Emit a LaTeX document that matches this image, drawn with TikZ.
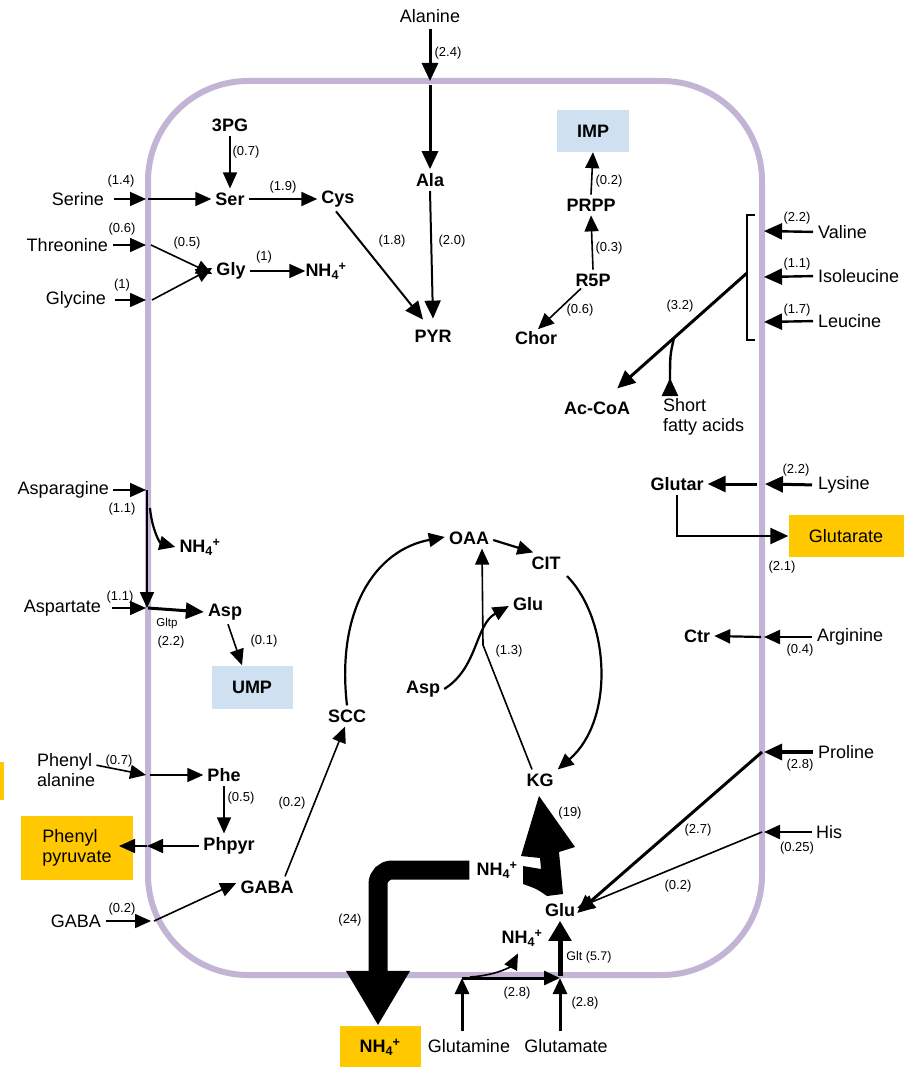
\documentclass[tikz,border=0pt]{standalone}
\usepackage{fontspec}
\setmainfont{Liberation Sans}
\usetikzlibrary{arrows.meta}
\definecolor{memb}{RGB}{195,180,214}
\definecolor{boxblue}{RGB}{207,224,241}
\definecolor{boxyel}{RGB}{255,200,0}
\newcommand{\NHf}{NH\textsubscript{4}\kern-0.02em\textsuperscript{+}}
\tikzset{
  lab/.style={font=\fontsize{18}{20}\selectfont, inner sep=0pt},
  met/.style={font=\fontsize{18}{20}\selectfont\bfseries, inner sep=4pt},
  num/.style={font=\fontsize{13}{15}\selectfont, inner sep=0pt},
  sml/.style={font=\fontsize{11.5}{13}\selectfont, inner sep=0pt},
  tipA/.style={-{Triangle[length=16pt,width=14pt]}},
  tipB/.style={-{Triangle[length=18pt,width=16pt]}},
  arr/.style={tipA, line width=1.6pt},
  arrM/.style={tipA, line width=2.2pt},
  arrT/.style={tipB, line width=3pt},
  bluebox/.style={met, fill=boxblue},
  yelbox/.style={fill=boxyel},
}
\begin{document}
\begin{tikzpicture}[x=1pt,y=-1pt]
\useasboundingbox (0,0) rectangle (916,1067);
% membrane
\draw[memb, line width=6pt, rounded corners=100pt] (148,81) rectangle (762,975);
\fill[boxyel] (0,762) rectangle (4,800);

% membrane points
\coordinate (mAla) at (430,81);
\coordinate (mSer) at (146,199);
\coordinate (mThr) at (146,245);
\coordinate (mGlyc) at (146,300);
\coordinate (mVal) at (764,231);
\coordinate (mIle) at (764,277);
\coordinate (mLeu) at (764,322);
\coordinate (mLys) at (765,484);
\coordinate (mArg) at (764,637);
\coordinate (mPro) at (764,752);
\coordinate (mHis) at (764,832);
\coordinate (mAsn) at (146,490);
\coordinate (mAsp) at (146,608);
\coordinate (mPhe) at (146,775);
\coordinate (mPhpyr) at (147,846);
\coordinate (mGaba) at (151,921);
\coordinate (mGln) at (462,978);
\coordinate (mGlt) at (560,978);
\coordinate (brTop) at (755,215);
\coordinate (brBot) at (755,340);
\coordinate (brMid) at (747,273);
\coordinate (sfaJ) at (674,338);

% outside labels
\node[lab] (alanineT) at (430,16) {Alanine};
\node[lab,anchor=east] (serineT) at (104,199) {Serine};
\node[lab,anchor=east] (threoT) at (108,245) {Threonine};
\node[lab,anchor=east] (glycT) at (106,300) {Glycine};
\node[lab,anchor=west] (valT) at (818,232) {Valine};
\node[lab,anchor=west] (ileT) at (818,276) {Isoleucine};
\node[lab,anchor=west] (leuT) at (818,321) {Leucine};
\node[lab,anchor=west] (lysT) at (818,485) {Lysine};
\node[lab,anchor=west] (argT) at (817,637) {Arginine};
\node[lab,anchor=west] (proT) at (818,752) {Proline};
\node[lab,anchor=west] (hisT) at (816,832) {His};
\node[lab,anchor=east] (asnT) at (109,490) {Asparagine};
\node[lab,anchor=east] (aspT) at (101,608) {Aspartate};
\node[lab,anchor=west,align=left] (pheT) at (37,770) {Phenyl\\alanine};
\node[lab,anchor=east] (gabaT) at (101,921) {GABA};
\node[lab] (glnT) at (469,1046) {Glutamine};
\node[lab] (gluT) at (566,1046) {Glutamate};
\node[lab,anchor=north west,align=left] (sfaT) at (663,398) {Short\\fatty acids};

% metabolites
\node[met] (pg3) at (230,125) {3PG};
\node[met] (ser) at (230,199) {Ser};
\node[met] (cys) at (338,199) {Cys};
\node[met] (gly) at (231,271) {Gly};
\node[met] (nh1) at (326,271) {\NHf};
\node[met] (ala) at (430,180) {Ala};
\node[met] (pyr) at (433,336) {PYR};
\node[bluebox, minimum width=72pt, minimum height=42pt] (imp) at (593,131) {IMP};
\node[met] (prpp) at (591,205) {PRPP};
\node[met] (r5p) at (593,280) {R5P};
\node[met] (chor) at (536,338) {Chor};
\node[met] (accoa) at (597,408) {Ac-CoA};
\node[met] (glutar) at (677,484) {Glutar};
\node[lab, yelbox, minimum width=115pt, minimum height=42pt] (glutarate) at (846,536) {Glutarate};
\node[met] (ctr) at (697,636) {Ctr};
\node[met] (nh2) at (200,547) {\NHf};
\node[met] (asp1) at (225,612) {Asp};
\node[bluebox, minimum width=81pt, minimum height=43pt] (ump) at (252,687) {UMP};
\node[met] (oaa) at (469,538) {OAA};
\node[met] (cit) at (546,563) {CIT};
\node[met] (glu1) at (528,604) {Glu};
\node[met] (asp2) at (423,689) {Asp};
\node[met] (scc) at (347,716) {SCC};
\node[met] (kg) at (540,780) {KG};
\node[met] (phe) at (224,775) {Phe};
\node[met] (phpyr) at (229,846) {Phpyr};
\node[lab, yelbox, minimum width=112pt, minimum height=64pt, align=left] (ppyrbox) at (77,848) {Phenyl\\pyruvate};
\node[met] (gaba) at (267,887) {GABA};
\node[met] (nh3) at (497,870) {\NHf};
\node[met] (glu2) at (560,910) {Glu};
\node[met] (nh4) at (522,938) {\NHf};
\node[met, yelbox, minimum width=81pt, minimum height=42pt] (nhbox) at (380,1047) {\NHf};

% ---- connectors ----
% alanine
\draw[arrT] (alanineT.south) ++(0,6) -- (mAla);
\draw[arrT] (mAla) ++(0,4) -- (ala.north);
\node[num] (n24) at (448,53) {(2.4)};
\draw[tipB, line width=2pt] (ala.south) -- ([yshift=7pt]pyr.north);
\node[num] (n20) at (452,241) {(2.0)};
% serine / cys
\draw[arr] (pg3.south) -- (ser.north);
\node[num] (n07a) at (246,152) {(0.7)};
\draw[arr, shorten <=10pt] (serineT.east) -- (mSer);
\node[num] (n14) at (121,181) {(1.4)};
\draw[arr] (mSer) ++(2,0) -- (ser.west);
\draw[arrM] (ser.east) -- (cys.west);
\node[num] (n19a) at (283,187) {(1.9)};
\draw[tipB, line width=2pt] ([xshift=-2pt]cys.south) -- ([xshift=-10pt,yshift=6pt]pyr.north);
\node[num] (n18) at (392,241) {(1.8)};
% threonine / glycine
\draw[arr, shorten <=5pt] (threoT.east) -- (mThr);
\node[num] (n06a) at (122,229) {(0.6)};
\draw[arr] (mThr) ++(5,0) -- ([yshift=-3pt]gly.west);
\node[num] (n05a) at (187,243) {(0.5)};
\draw[arr, shorten <=9pt] (glycT.east) -- (mGlyc);
\node[num] (n1a) at (122,285) {(1)};
\draw[arr] (mGlyc) ++(6,0) -- ([yshift=3pt]gly.west);
\draw[arr] (gly.east) -- ([xshift=4pt]nh1.west);
\node[num] (n1b) at (264,257) {(1)};
% nucleotides
\draw[arr] (prpp.north) -- (imp.south);
\node[num] (n02a) at (609,181) {(0.2)};
\draw[arr] (r5p.north) -- (prpp.south);
\node[num] (n03) at (609,248) {(0.3)};
\draw[arr] ([xshift=-12pt,yshift=2pt]r5p.south) -- ([xshift=2pt,yshift=-2pt]chor.north);
\node[num] (n06b) at (580,310) {(0.6)};
% branched chain
\draw[arrT, line width=2.4pt, shorten <=5pt] (valT.west) -- (mVal);
\node[num] (n22a) at (797,218) {(2.2)};
\draw[arrT, line width=2.4pt, shorten <=5pt] (ileT.west) -- (mIle);
\node[num] (n11a) at (797,264) {(1.1)};
\draw[arrT, line width=2.4pt, shorten <=5pt] (leuT.west) -- (mLeu);
\node[num] (n17) at (797,310) {(1.7)};
\draw[line width=2.5pt] (brTop) -- (747,215) -- (747,340) -- (brBot);
\draw[arrT] (brMid) -- ([xshift=-17pt,yshift=9pt]accoa.north east);
\node[num] (n32) at (680,306) {(3.2)};
\draw[line width=2.4pt] (sfaJ) .. controls (670,355) .. (670,384);
\draw[tipB, line width=2.4pt] (670,394) -- (670,378);
% lysine
\draw[arrT, shorten <=6pt] (lysT.west) -- (mLys);
\node[num] (n22b) at (796,470) {(2.2)};
\draw[arrT] (mLys) ++(-8,0) -- (glutar.east);
\draw[tipB, line width=2.4pt] (glutar.south) |- (glutarate.west);
\node[num] (n21) at (782,567) {(2.1)};
% arginine
\draw[arrM, shorten <=5pt] (argT.west) -- (mArg);
\node[num] (n04) at (800,650) {(0.4)};
\draw[arrM] (mArg) ++(-3,0) -- (ctr.east);
% asparagine / aspartate
\draw[arr, shorten <=4pt] (asnT.east) -- (mAsn);
\node[num] (n11b) at (122,509) {(1.1)};
\draw[arrM] (mAsn) ++(1,0) -- ([xshift=1pt]mAsp);
\draw[arrM] (150,508) .. controls (152,530) and (160,543) .. (nh2.west);
\draw[arr, shorten <=11pt] (aspT.east) -- (mAsp);
\node[num] (n11c) at (120,597) {(1.1)};
\draw[arrT] (mAsp) ++(2,0) -- (asp1.west);
\node[sml] (gltp) at (167,624) {Gltp};
\node[num] (n22c) at (171,642) {(2.2)};
\draw[arr] ([xshift=3pt]asp1.south) -- ([xshift=-10pt]ump.north);
\node[num] (n01) at (264,641) {(0.1)};
% TCA
\draw[arrM] ([yshift=-2pt]oaa.east) -- ([xshift=6pt]cit.north west);
\draw[arrM] (scc.north) .. controls (336,610) and (375,550) .. ([yshift=1pt]oaa.west);
\draw[arrM] (567,576) .. controls (610,620) and (615,720) .. (kg.north east);
\draw[arrM] (asp2.east) .. controls (478,668) and (475,625) .. ([yshift=-2pt]glu1.west);
\draw[arr] ([xshift=-8pt]kg.north) -- (483,645) -- ([xshift=13pt]oaa.south);
\node[num] (n13) at (509,651) {(1.3)};
\draw[arr] ([xshift=18pt]gaba.north) -- ([xshift=-2pt]scc.south);
\node[num] (n02b) at (292,803) {(0.2)};
% phenylalanine
\draw[arr, shorten <=1pt] ([yshift=5pt]pheT.east) -- (mPhe);
\node[num] (n07b) at (119,761) {(0.7)};
\draw[arr] (mPhe) ++(4,0) -- (phe.west);
\draw[arr] (phe.south) -- ([xshift=-5pt]phpyr.north);
\node[num] (n05b) at (241,798) {(0.5)};
\draw[arr] (phpyr.west) -- (mPhpyr);
\draw[arr] (mPhpyr) -- (119,846);
% gaba
\draw[arr, shorten <=5pt] (gabaT.east) -- (mGaba);
\node[num] (n02c) at (122,909) {(0.2)};
\draw[arr] (mGaba) ++(3,0) -- ([yshift=4pt]gaba.west);
% big NH4 efflux
\draw[line width=19pt, rounded corners=14pt, -{Triangle[length=55pt,width=60pt]}] ([xshift=-3pt]nh3.west) -- (378,870) -- (nhbox.north -| 378,870);
\node[num] (n24b) at (350,920) {(24)};
% big Glu -> KG arrow
\fill (539,796) -- (575,847) -- (559,852) -- (563,894) -- (547,896)
      .. controls (537,889) .. (523,884) -- (523,866) -- (541,869) -- (540,858) -- (521,856) -- cycle;
\node[num] (n19b) at (570,813) {(19)};
% proline, his
\draw[arrT, line width=3.2pt, shorten <=5pt] (proT.west) -- (mPro);
\node[num] (n28a) at (800,765) {(2.8)};
\draw[tipB, line width=3pt] (mPro) ++(-2,0) -- ([xshift=-2pt,yshift=-3pt]glu2.east);
\node[num] (n27) at (698,830) {(2.7)};
\draw[arrM, shorten <=4pt] (hisT.west) -- (mHis);
\node[num] (n025) at (797,848) {(0.25)};
\draw[arr] (mHis) ++(-2,0) -- ([xshift=-2pt,yshift=2pt]glu2.east);
\node[num] (n02d) at (678,886) {(0.2)};
% glutamine, glutamate
\draw[tipA, line width=3pt] ([yshift=8pt]glnT.north -| mGln) -- (mGln);
\draw[tipA, line width=3pt] (mGln) -- (mGlt);
\node[num] (n28b) at (517,993) {(2.8)};
\draw[arr] (470,977) .. controls (500,975) and (512,965) .. ([xshift=-4pt,yshift=-3pt]nh4.south);
\draw[tipA, line width=3pt] ([yshift=8pt]gluT.north -| mGlt) -- (mGlt);
\node[num] (n28c) at (585,1003) {(2.8)};
\draw[-{Triangle[length=20pt,width=22pt]}, line width=5pt] (mGlt) ++(0,-2) -- (glu2.south);
\node[sml, font=\fontsize{12.5}{14}\selectfont] (glt) at (589,957) {Glt (5.7)};
\end{tikzpicture}
\end{document}
